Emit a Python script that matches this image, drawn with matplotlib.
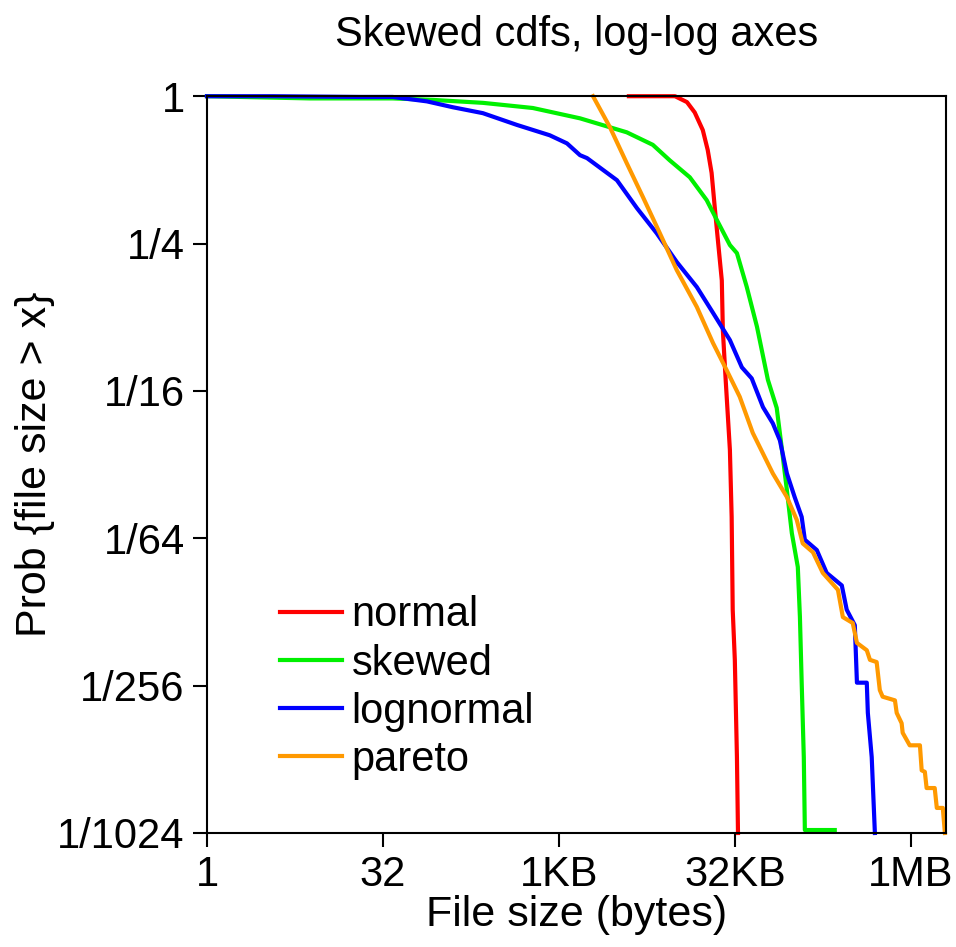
import matplotlib
matplotlib.use("Agg")
import matplotlib.pyplot as plt
import numpy as np

plt.rcParams['font.family'] = ['Liberation Sans', 'DejaVu Sans']

# curves, as log2(file size) and log2(probability)
normal_lx = [11.99, 13.3, 13.64, 13.86, 14.09, 14.23, 14.34, 14.43, 14.51, 14.63,
             14.66, 14.74, 14.86, 14.91, 14.94, 15.0, 15.06, 15.09]
normal_lp = [0, 0, -0.08, -0.22, -0.46, -0.73, -1.04, -1.51, -1.91, -2.50,
             -3.18, -3.85, -4.80, -5.71, -6.97, -7.65, -8.97, -10]

skewed_lx = [0, 2.93, 5.28, 6.42, 7.84, 9.26, 10.6, 11.93, 12.67, 13.15, 13.72,
             14.2, 14.49, 14.86, 15.06, 15.34, 15.63, 15.94, 16.19, 16.34, 16.48,
             16.62, 16.79, 16.85, 16.9, 16.96, 16.99, 17.84]
skewed_lp = [0, -0.03, -0.03, -0.05, -0.09, -0.16, -0.30, -0.49, -0.66, -0.87, -1.10,
             -1.41, -1.68, -2.02, -2.13, -2.59, -3.13, -3.85, -4.23, -4.80, -5.35,
             -5.93, -6.39, -7.07, -7.96, -8.97, -9.96, -9.96]

lognormal_lx = [0, 1.875, 4.35, 5.28, 6.25, 6.99, 7.84, 8.81, 9.74, 10.23, 10.6,
                10.8, 11.65, 12.22, 12.78, 13.35, 13.92, 14.38, 14.86, 15.2, 15.48,
                15.8, 16.08, 16.28, 16.48, 16.7, 16.9, 16.99, 17.33, 17.61, 18.04,
                18.18, 18.41, 18.47, 18.75, 18.78, 18.89, 18.98]
lognormal_lp = [0, 0, -0.01, -0.01, -0.07, -0.15, -0.23, -0.39, -0.53, -0.64, -0.80,
                -0.84, -1.14, -1.52, -1.86, -2.25, -2.59, -2.94, -3.31, -3.68, -3.83,
                -4.22, -4.44, -4.67, -5.12, -5.44, -5.71, -6.02, -6.16, -6.47, -6.64,
                -6.97, -7.18, -7.96, -7.96, -8.37, -8.97, -10]

pareto_lx = [10.97, 11.45, 11.93, 12.39, 12.87, 13.35, 13.92, 14.38, 14.77, 15.14,
             15.51, 16.08, 16.48, 16.76, 16.93, 17.22, 17.5, 17.93, 18.07, 18.35,
             18.47, 18.75, 18.84, 19.03, 19.12, 19.2, 19.55, 19.6, 19.74, 19.77,
             19.97, 20.26, 20.31, 20.4, 20.45, 20.68, 20.74, 20.91, 20.97]
pareto_lp = [0, -0.42, -0.91, -1.37, -1.86, -2.36, -2.86, -3.35, -3.72, -4.08,
             -4.57, -5.12, -5.44, -5.75, -6.07, -6.19, -6.47, -6.70, -7.07, -7.15,
             -7.42, -7.52, -7.65, -7.68, -8.06, -8.15, -8.2, -8.37, -8.51, -8.64,
             -8.81, -8.81, -9.15, -9.17, -9.39, -9.39, -9.66, -9.66, -10]

x_tick_pow = [0, 5, 10, 15, 20]
x_tick_labels = ['1', '32', '1KB', '32KB', '1MB']
y_tick_pow = [0, -2, -4, -6, -8, -10]
y_tick_labels = ['1', '1/4', '1/16', '1/64', '1/256', '1/1024']

series = [
    ('normal', normal_lx, normal_lp, '#ff0000'),
    ('skewed', skewed_lx, skewed_lp, '#00f000'),
    ('lognormal', lognormal_lx, lognormal_lp, '#0000ff'),
    ('pareto', pareto_lx, pareto_lp, '#ff9900'),
]

fig = plt.figure(figsize=(9.56, 9.47), dpi=100)
ax = fig.add_axes([0.2165, 0.1204, 0.773, 0.778])

for name, lx, lp, col in series:
    ax.plot(2.0 ** np.array(lx), 2.0 ** np.array(lp), color=col, lw=3,
            label=name, clip_on=False)

ax.set_xscale('log', base=2)
ax.set_yscale('log', base=2)
ax.set_xlim(1, 2.0 ** 21)
ax.set_ylim(2.0 ** -10, 1)
ax.set_xticks([2.0 ** p for p in x_tick_pow])
ax.set_xticklabels(x_tick_labels)
ax.set_yticks([2.0 ** p for p in y_tick_pow])
ax.set_yticklabels(y_tick_labels)
ax.minorticks_off()
ax.tick_params(labelsize=30, length=10, width=1.5, pad=6)
for s in ax.spines.values():
    s.set_linewidth(1.5)

ax.set_xlabel('File size (bytes)', fontsize=31, labelpad=0)
ax.set_ylabel('Prob {file size > x}', fontsize=31)
ax.yaxis.set_label_coords(-0.205, 0.5)
ax.set_title('Skewed cdfs, log-log axes', fontsize=30, pad=36)

ax.legend(loc='upper left', bbox_to_anchor=(0.076, 0.345), frameon=False,
          fontsize=30, handlelength=1.5, handletextpad=0.22, labelspacing=0.195,
          borderaxespad=0)

fig.savefig('out.png', dpi=100)
